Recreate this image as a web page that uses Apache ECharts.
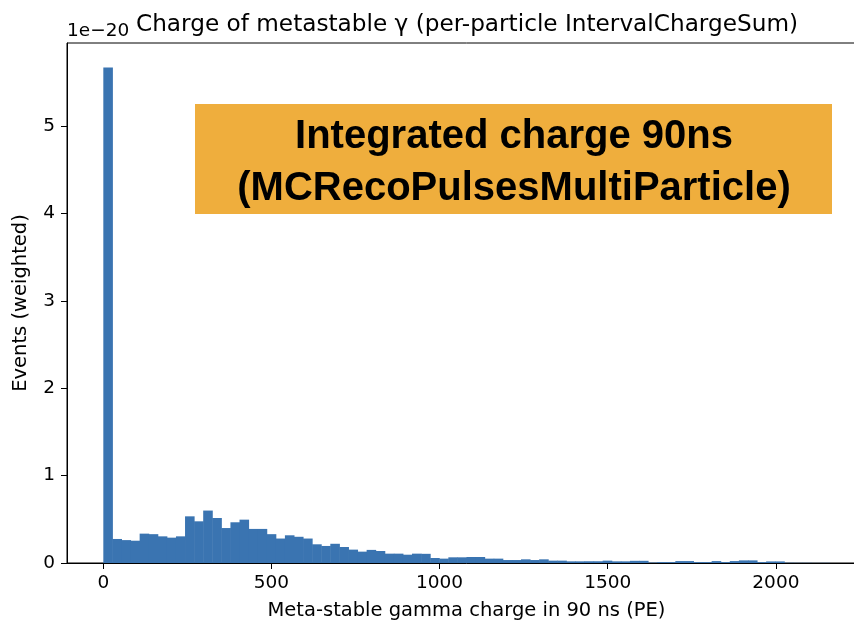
<!DOCTYPE html>
<html>
<head>
<meta charset="utf-8">
<script src="https://cdn.jsdelivr.net/npm/echarts@6/dist/echarts.min.js"></script>
<style>
  html, body { margin: 0; padding: 0; background: #fff; overflow: hidden; }
  /* the axes run past the right edge of the window, as in the reference */
  #chart { width: 870px; height: 626px; }
</style>
</head>
<body>
<div id="chart"></div>
<script>
  // histogram, 80 bins of width 27 PE starting at 0 (heights in units of 1e-20)
  const binStart = 0;
  const binWidth = 27;
  const counts = [
    5.67, 0.275, 0.262, 0.255, 0.336, 0.33, 0.305, 0.29, 0.305, 0.534,
    0.477, 0.60, 0.515, 0.40, 0.466, 0.496, 0.39, 0.39, 0.33, 0.28,
    0.317, 0.30, 0.28, 0.214, 0.195, 0.22, 0.183, 0.153, 0.13, 0.15,
    0.137, 0.107, 0.107, 0.095, 0.107, 0.105, 0.057, 0.05, 0.065, 0.065,
    0.069, 0.069, 0.05, 0.05, 0.034, 0.034, 0.042, 0.034, 0.042, 0.027,
    0.027, 0.019, 0.019, 0.02, 0.02, 0.027, 0.019, 0.019, 0.025, 0.025,
    0.005, 0.01, 0.01, 0.022, 0.022, 0.01, 0.01, 0.022, 0.01, 0.022,
    0.03, 0.03, 0.01, 0.018, 0.018, 0.003, 0.002, 0.002, 0.001, 0.002
  ];
  const xTicks = [0, 500, 1000, 1500, 2000];
  const yTicks = [0, 1, 2, 3, 4, 5];

  const barData = counts.map((c, i) => [binStart + i * binWidth, binStart + (i + 1) * binWidth, c]);

  const font = 'DejaVu Sans';
  const boxFont = { fontFamily: 'Liberation Sans', fontWeight: 'bold', fontSize: 40, fill: '#000' };
  const chart = echarts.init(document.getElementById('chart'));
  chart.setOption({
    animation: false,
    grid: {
      left: 67, right: 4, top: 43, bottom: 63,
      show: true, borderColor: '#000', borderWidth: 1
    },
    title: {
      text: 'Charge of metastable γ (per-particle IntervalChargeSum)',
      left: 462, top: 8, textAlign: 'center',
      textStyle: { fontFamily: font, fontSize: 23.2, fontWeight: 'normal', color: '#000' }
    },
    xAxis: {
      type: 'value', min: -108, max: 2268,
      name: 'Meta-stable gamma charge in 90 ns (PE)',
      nameLocation: 'middle', nameGap: 38,
      nameTextStyle: { fontFamily: font, fontSize: 19.5, color: '#000' },
      splitLine: { show: false },
      axisLine: { show: true, onZero: false, lineStyle: { color: '#000', width: 1 } },
      axisTick: { show: true, length: 6, customValues: xTicks, lineStyle: { color: '#000' } },
      axisLabel: {
        customValues: xTicks, fontFamily: font, fontSize: 18.5, color: '#000', margin: 11,
        formatter: v => String(v)
      }
    },
    yAxis: {
      type: 'value', min: 0, max: 5.95,
      name: 'Events (weighted)',
      nameLocation: 'middle', nameGap: 36, nameRotate: 90,
      nameTextStyle: { fontFamily: font, fontSize: 19.5, color: '#000' },
      splitLine: { show: false },
      axisLine: { show: true, onZero: false, lineStyle: { color: '#000', width: 1 } },
      axisTick: { show: true, length: 6, customValues: yTicks, lineStyle: { color: '#000' } },
      axisLabel: { customValues: yTicks, fontFamily: font, fontSize: 18.5, color: '#000', margin: 12 }
    },
    series: [{
      type: 'custom',
      data: barData,
      encode: { x: [0, 1], y: 2 },
      renderItem: function (params, api) {
        const p0 = api.coord([api.value(0), 0]);
        const p1 = api.coord([api.value(1), api.value(2)]);
        return {
          type: 'rect',
          shape: { x: p0[0], y: p1[1], width: p1[0] - p0[0] + 0.5, height: p0[1] - p1[1] },
          style: { fill: '#3a74b1' }
        };
      }
    }],
    graphic: [
      {
        type: 'text', left: 67, top: 22,
        style: { text: '1e−20', fontFamily: font, fontSize: 18.5, fill: '#000' }
      },
      {
        type: 'rect', left: 195, top: 104, z: 100,
        shape: { width: 637, height: 110 },
        style: { fill: '#efae3d' }
      },
      {
        type: 'text', z: 101, x: 514, y: 137,
        style: Object.assign({ text: 'Integrated charge 90ns', align: 'center', verticalAlign: 'middle' }, boxFont)
      },
      {
        type: 'text', z: 101, x: 514, y: 189,
        style: Object.assign({ text: '(MCRecoPulsesMultiParticle)', align: 'center', verticalAlign: 'middle' }, boxFont)
      }
    ]
  });
</script>
</body>
</html>
